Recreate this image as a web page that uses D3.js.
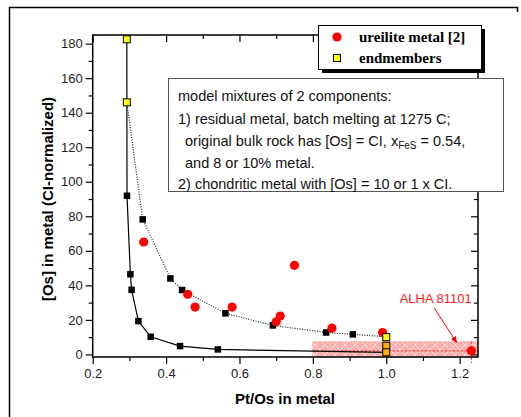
<!DOCTYPE html>
<html lang="en">
<head>
<meta charset="utf-8">
<title>Os vs Pt/Os in metal</title>
<style>
  body { margin: 0; background: #fff; }
  svg { display: block; }
  .tick text { font-family: "Liberation Sans", Arial, sans-serif; font-size: 13px; fill: #222; }
  .axis path, .axis line { stroke: #000; }
</style>
</head>
<body>
<div id="chart"></div>
<script src="https://cdn.jsdelivr.net/npm/d3@7/dist/d3.min.js"></script>
<script>
// ureilite metal data
var ureX = [0.339, 0.459, 0.479, 0.58, 0.70, 0.711, 0.75, 0.852, 0.99, 1.232];
var ureY = [65.1, 34.8, 27.4, 27.4, 18.9, 22.2, 51.6, 15.2, 12.7, 2.1];

// endmembers
var endX = [0.293, 0.293, 1.0, 1.0, 1.0];
var endY = [182.5, 146, 10, 5, 1.2];

// mixing curve, solid
var mixAX = [0.293, 0.2935, 0.3027, 0.306, 0.3245, 0.358, 0.438, 0.541, 1.0];
var mixAY = [182.5, 91.9, 46.4, 37.4, 19.3, 10.2, 4.8, 2.9, 1.2];

// mixing curve, dotted
var mixBX = [0.293, 0.3363, 0.4117, 0.4436, 0.5617, 0.691, 0.836, 0.909, 1.0];
var mixBY = [146, 78.2, 44.0, 37.3, 23.8, 16.8, 12.7, 11.6, 10.2];

// ALHA 81101 range band
var bandX = [0.8, 1.25];
var bandY = [-1.5, 7.3];

var xTicks = [0.2, 0.4, 0.6, 0.8, 1.0, 1.2];
var yTicks = [0, 20, 40, 60, 80, 100, 120, 140, 160, 180];

var width = 521, height = 417;
var L = 92.7, R = 478, T = 35, B = 357;

var svg = d3.select("#chart").append("svg")
    .attr("width", width).attr("height", height);

var x = d3.scaleLinear().domain([0.2, 1.25]).range([L, R]);
var y = d3.scaleLinear().domain([-1.5, 185]).range([B, T]);

// outer frame (left + top)
svg.append("path")
    .attr("d", "M9.5,417 V7.5 H517.5 V12")
    .attr("fill", "none").attr("stroke", "#000").attr("stroke-width", 1.5);

var defs = svg.append("defs");
var pat = defs.append("pattern")
    .attr("id", "hatch").attr("patternUnits", "userSpaceOnUse")
    .attr("width", 10).attr("height", 10);
pat.append("rect").attr("width", 10).attr("height", 10).attr("fill", "#f9b0b0");
pat.append("path").attr("d", "M0,0 L10,10 M10,0 L0,10")
    .attr("stroke", "#fdd6d6").attr("stroke-width", 1);
defs.append("marker")
    .attr("id", "arr").attr("viewBox", "0 0 10 10").attr("refX", 9).attr("refY", 5)
    .attr("markerWidth", 7).attr("markerHeight", 7).attr("orient", "auto")
  .append("path").attr("d", "M0,1 L10,5 L0,9 Z").attr("fill", "#f00");

// band
svg.append("rect")
    .attr("x", x(bandX[0])).attr("y", y(bandY[1]))
    .attr("width", x(bandX[1]) - x(bandX[0]))
    .attr("height", y(bandY[0]) - y(bandY[1]))
    .attr("fill", "url(#hatch)").attr("stroke", "#f6a8a8").attr("stroke-width", 0.8);

// dashed red error lines for ALHA 81101
var ai = ureX.length - 1;
svg.append("line")
    .attr("x1", x(bandX[0])).attr("x2", x(bandX[1]))
    .attr("y1", y(ureY[ai])).attr("y2", y(ureY[ai]))
    .attr("stroke", "#f33").attr("stroke-width", 1.2).attr("stroke-dasharray", "2,2");
svg.append("line")
    .attr("x1", x(ureX[ai])).attr("x2", x(ureX[ai]))
    .attr("y1", y(bandY[1])).attr("y2", y(-5))
    .attr("stroke", "#f33").attr("stroke-width", 1.2).attr("stroke-dasharray", "2,2");

// axes
var xMinor = d3.range(0.3, 1.25, 0.2);
var yMinor = d3.range(10, 185, 20);

svg.append("g").attr("class", "axis").attr("transform", "translate(0," + B + ")")
    .call(d3.axisBottom(x).tickValues(xTicks).tickSize(7).tickPadding(5)
      .tickFormat(function(d) { return d === 1 ? "1.0" : d3.format(".1f")(d); }));
svg.append("g").attr("class", "axis").attr("transform", "translate(0," + B + ")")
    .call(d3.axisBottom(x).tickValues(xMinor).tickSize(4).tickFormat(""));

svg.append("g").attr("class", "axis").attr("transform", "translate(" + L + ",0)")
    .call(d3.axisLeft(y).tickValues(yTicks).tickSize(7).tickPadding(3));
svg.append("g").attr("class", "axis").attr("transform", "translate(" + L + ",0)")
    .call(d3.axisLeft(y).tickValues(yMinor).tickSize(4).tickFormat(""));

// mirrored axes, inward ticks
svg.append("g").attr("class", "axis").attr("transform", "translate(0," + T + ")")
    .call(d3.axisBottom(x).tickValues(xTicks).tickSize(7).tickFormat(""));
svg.append("g").attr("class", "axis").attr("transform", "translate(0," + T + ")")
    .call(d3.axisBottom(x).tickValues(xMinor).tickSize(4).tickFormat(""));
svg.append("g").attr("class", "axis").attr("transform", "translate(" + R + ",0)")
    .call(d3.axisLeft(y).tickValues(yTicks).tickSize(7).tickFormat(""));
svg.append("g").attr("class", "axis").attr("transform", "translate(" + R + ",0)")
    .call(d3.axisLeft(y).tickValues(yMinor).tickSize(4).tickFormat(""));

svg.selectAll(".axis .domain").remove();
svg.selectAll(".axis .tick line").attr("stroke-width", 1.2);
svg.append("rect").attr("x", L).attr("y", T).attr("width", R - L).attr("height", B - T)
    .attr("fill", "none").attr("stroke", "#000").attr("stroke-width", 1.5);

// axis titles
svg.append("text")
    .attr("x", 285).attr("y", 404).attr("text-anchor", "middle")
    .style("font-family", "Liberation Sans, Arial, sans-serif").style("font-weight", "bold")
    .style("font-size", "15px").text("Pt/Os in metal");
svg.append("text")
    .attr("transform", "translate(53,199) rotate(-90)").attr("text-anchor", "middle")
    .style("font-family", "Liberation Sans, Arial, sans-serif").style("font-weight", "bold")
    .style("font-size", "15px").text("[Os] in metal (CI-normalized)");

// mixing curves
function pts(xs, ys) { return xs.map(function(v, i) { return [v, ys[i]]; }); }
var line = d3.line().x(function(d) { return x(d[0]); }).y(function(d) { return y(d[1]); });

svg.append("path").datum(pts(mixAX, mixAY)).attr("d", line)
    .attr("fill", "none").attr("stroke", "#000").attr("stroke-width", 1.2);
svg.append("path").datum(pts(mixBX, mixBY)).attr("d", line)
    .attr("fill", "none").attr("stroke", "#222").attr("stroke-width", 1.2)
    .attr("stroke-dasharray", "1,1.5");

var sq = 6.5;
svg.append("g").selectAll("rect")
    .data(pts(mixAX, mixAY).slice(1, -1).concat(pts(mixBX, mixBY).slice(1, -1)))
  .enter().append("rect")
    .attr("x", function(d) { return x(d[0]) - sq / 2; })
    .attr("y", function(d) { return y(d[1]) - sq / 2; })
    .attr("width", sq).attr("height", sq).attr("fill", "#000");

// ureilite metal
svg.append("g").selectAll("circle")
    .data(pts(ureX, ureY))
  .enter().append("circle")
    .attr("cx", function(d) { return x(d[0]); })
    .attr("cy", function(d) { return y(d[1]); })
    .attr("r", 4.6).attr("fill", "#ff0000");

// endmembers
var es = 7;
svg.append("g").selectAll("rect")
    .data(pts(endX, endY))
  .enter().append("rect")
    .attr("x", function(d) { return x(d[0]) - es / 2; })
    .attr("y", function(d) { return y(d[1]) - es / 2; })
    .attr("width", es).attr("height", es)
    .attr("fill", function(d) { return d[1] < 8 ? "#ffb000" : "#ffff00"; })
    .attr("stroke", "#000").attr("stroke-width", 1);

// ALHA label and arrow
svg.append("text")
    .attr("x", x(1.233)).attr("y", y(29.8)).attr("text-anchor", "end")
    .style("font-family", "Liberation Sans, Arial, sans-serif").style("font-size", "13px")
    .attr("fill", "#ff2020").text("ALHA 81101");
svg.append("line")
    .attr("x1", x(1.131)).attr("y1", y(26.8)).attr("x2", x(1.192)).attr("y2", y(6.8))
    .attr("stroke", "#f00").attr("stroke-width", 1).attr("marker-end", "url(#arr)");

// legend
var lg = svg.append("g");
lg.append("rect").attr("x", 322).attr("y", 29).attr("width", 163).attr("height", 44).attr("fill", "#000");
lg.append("rect").attr("x", 318.5).attr("y", 25.5).attr("width", 163).attr("height", 44)
    .attr("fill", "#fff").attr("stroke", "#000").attr("stroke-width", 1);
lg.append("circle").attr("cx", 337).attr("cy", 37).attr("r", 4.6).attr("fill", "#ff0000");
lg.append("rect").attr("x", 333.5).attr("y", 54.5).attr("width", 7).attr("height", 7)
    .attr("fill", "#ffff00").attr("stroke", "#000");
lg.selectAll("text").data(["ureilite metal [2]", "endmembers"])
  .enter().append("text")
    .attr("x", 359).attr("y", function(d, i) { return 42 + i * 21; })
    .style("font-family", "Liberation Serif, Times New Roman, serif").style("font-weight", "bold")
    .style("font-size", "15px").text(function(d) { return d; });

// model description box
var bx = svg.append("g");
bx.append("rect").attr("x", 168.5).attr("y", 78.5).attr("width", 335).attr("height", 113)
    .attr("fill", "#fff").attr("stroke", "#555").attr("stroke-width", 1);
var tf = "Liberation Sans, Arial, sans-serif";
function tline(xp, yp, s) {
  return bx.append("text").attr("x", xp).attr("y", yp)
    .style("font-family", tf).style("font-size", "14.5px").attr("fill", "#111").text(s);
}
tline(178, 101, "model mixtures of 2 components:");
tline(178, 124, "1) residual metal, batch melting at 1275 C;");
var t3 = tline(185, 146, "original bulk rock has [Os] = CI, x");
t3.append("tspan").attr("dy", 3).style("font-size", "10px").text("FeS");
t3.append("tspan").attr("dy", -3).text(" = 0.54,");
tline(185, 168, "and 8 or 10% metal.");
tline(178, 189, "2) chondritic metal with [Os] = 10 or 1 x CI.");
</script>
</body>
</html>
